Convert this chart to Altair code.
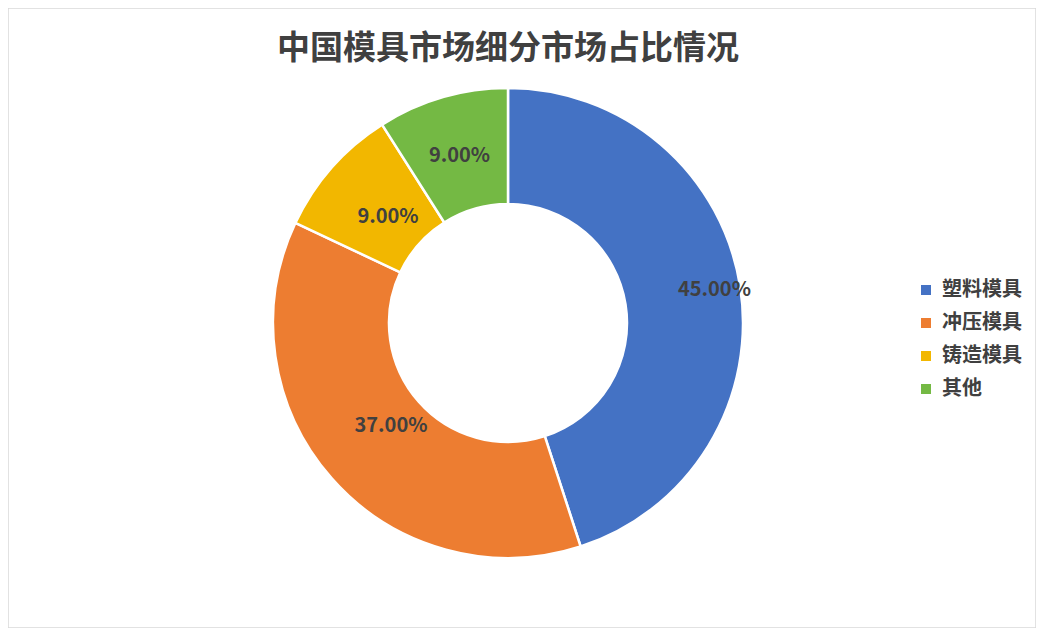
import altair as alt
import pandas as pd

categories = ["塑料模具", "冲压模具", "铸造模具", "其他"]
values = [45.0, 37.0, 9.0, 9.0]
labels = ["45.00%", "37.00%", "9.00%", "9.00%"]
colors = ["#4472C4", "#ED7D31", "#F2B700", "#74B944"]
title_text = "中国模具市场细分市场占比情况"

df = pd.DataFrame({
    "category": categories,
    "value": values,
    "label": labels,
    "order": list(range(len(categories))),
})

FONT = "Noto Sans CJK SC"
W, H = 1028, 620
CX, CY = 500, 315
TOTAL = sum(values)

base = alt.Chart(df).transform_stack(
    stack="value", groupby=[], as_=["v0", "v1"],
    sort=[alt.SortField("order", order="ascending")],
).transform_calculate(mid="(datum.v0 + datum.v1) / 2")

theta_scale = alt.Scale(domain=[0, TOTAL], range=[0, 6.283185307179586])

arcs = base.mark_arc(
    outerRadius=235, innerRadius=119, stroke="white", strokeWidth=2.5
).encode(
    theta=alt.Theta("v0:Q", scale=theta_scale, stack=None),
    theta2="v1:Q",
    x=alt.value(CX), y=alt.value(CY),
    color=alt.Color(
        "category:N",
        scale=alt.Scale(domain=categories, range=colors),
        sort=categories,
        legend=alt.Legend(
            title=None, orient="none", legendX=908, legendY=272,
            symbolType="square", symbolSize=100, labelFont=FONT,
            labelFontSize=20, labelFontWeight="bold", labelColor="#404040",
            rowPadding=13, symbolStrokeWidth=0, labelOffset=6,
        ),
    ),
)

# label radius per slice (Excel-style best-fit placement)
label_radius = {"塑料模具": 209, "冲压模具": 156, "铸造模具": 160, "其他": 174}
text_layers = []
for cat, r in label_radius.items():
    text_layers.append(
        base.transform_filter(alt.datum.category == cat).mark_text(
            radius=r, font=FONT, fontSize=20, fontWeight="bold", color="#404040"
        ).encode(
            theta=alt.Theta("mid:Q", scale=theta_scale, stack=None),
            x=alt.value(CX), y=alt.value(CY),
            text="label:N",
        )
    )

title = alt.Chart(pd.DataFrame({"t": [title_text]})).mark_text(
    font=FONT, fontSize=33, fontWeight="bold", color="#404040"
).encode(x=alt.value(500), y=alt.value(41), text="t:N")

chart = alt.layer(arcs, *text_layers, title).properties(
    width=W, height=H,
    autosize=alt.AutoSizeParams(type="fit", contains="padding"),
    padding=0,
).configure_view(stroke="#D9D9D9", strokeWidth=1.5)

chart.save("out.html", embed_options={"renderer": "svg", "actions": False})
